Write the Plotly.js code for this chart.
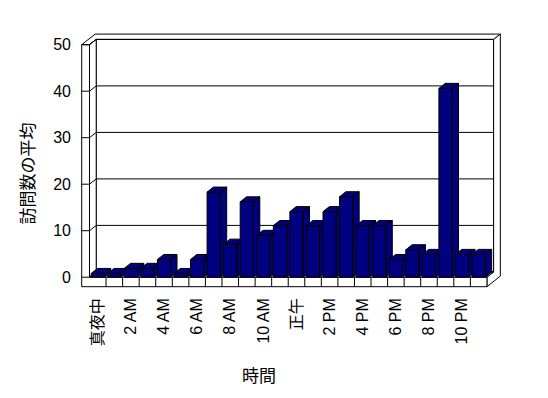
<!DOCTYPE html>
<html>
<head>
<meta charset="utf-8">
<script src="https://cdn.plot.ly/plotly-3.0.1.min.js"></script>
<style>
  html, body { margin: 0; padding: 0; background: #ffffff; }
  #chart { width: 548px; height: 398px; }
</style>
</head>
<body>
<div id="chart"></div>
<script>
// ---- data ----
const hours = ['真夜中','1 AM','2 AM','3 AM','4 AM','5 AM','6 AM','7 AM','8 AM','9 AM','10 AM','11 AM',
               '正午','1 PM','2 PM','3 PM','4 PM','5 PM','6 PM','7 PM','8 PM','9 PM','10 PM','11 PM'];
const avgVisits = [0.8, 0.8, 1.9, 1.9, 3.8, 0.8, 3.8, 18.3, 7.1, 16.2, 9.0, 11.1,
                   14.1, 11.1, 14.1, 17.3, 11.1, 11.1, 3.8, 5.9, 4.9, 40.6, 4.9, 4.9];
const xTickIdx = [0, 2, 4, 6, 8, 10, 12, 14, 16, 18, 20, 22];
const xTickLabels = ['真夜中','2 AM','4 AM','6 AM','8 AM','10 AM','正午','2 PM','4 PM','6 PM','8 PM','10 PM'];
const yTicks = [0, 10, 20, 30, 40, 50];
const xTitle = '時間';
const yTitle = '訪問数の平均';

// ---- geometry (pixel scale of front plane) ----
const PX_CAT = 16.56, PX_UNIT = 4.65;
const DX = 6.7 / PX_CAT, DY = 5.3 / PX_UNIT;   // one depth step
const WALL = 7.8 / PX_CAT;                       // left wall thickness
const FLOOR = 9.5 / PX_UNIT;                     // floor thickness
const N = hours.length;
const X0 = -0.5, X1 = N - 0.5, XL = X0 - WALL;
const YMAX = 50;
const HW = 0.4, BAR_DEPTH = 0.95;

const plotL = 78, plotR = 504, plotT = 30, plotB = 292;
const xr = [(plotL - 89.5) / PX_CAT - 0.5, (plotR - 89.5) / PX_CAT - 0.5];
const yr = [(277.2 - plotB) / PX_UNIT, (277.2 - plotT) / PX_UNIT];

function P(x, y, d) { return [x + d * DX, y + d * DY]; }
function pathOf(pts) {
  return 'M' + pts.map(p => p[0] + ',' + p[1]).join('L') + 'Z';
}
const wallStyle = { type: 'path', xref: 'x', yref: 'y', layer: 'below',
                    fillcolor: '#ffffff', line: { color: '#000000', width: 1 } };
const shapes = [];
function poly(pts) { shapes.push(Object.assign({}, wallStyle, { path: pathOf(pts) })); }
function seg(a, b) {
  shapes.push({ type: 'line', xref: 'x', yref: 'y', layer: 'below',
                x0: a[0], y0: a[1], x1: b[0], y1: b[1], line: { color: '#000000', width: 1 } });
}

// back wall inner face
poly([P(X0, 0, 1), P(X1, 0, 1), P(X1, YMAX, 1), P(X0, YMAX, 1)]);
// top faces of left + back wall
poly([P(XL, YMAX, 0), P(X0, YMAX, 0), P(X0, YMAX, 1), P(X1, YMAX, 1), P(X1, YMAX, 2), P(XL, YMAX, 2)]);
// right faces of back wall + floor
poly([P(X1, YMAX, 1), P(X1, YMAX, 2), P(X1, -FLOOR, 2), P(X1, -FLOOR, 0), P(X1, 0, 0), P(X1, 0, 1)]);
// left wall inner face
poly([P(X0, 0, 0), P(X0, 0, 1), P(X0, YMAX, 1), P(X0, YMAX, 0)]);
// floor top face
poly([P(X0, 0, 0), P(X1, 0, 0), P(X1, 0, 1), P(X0, 0, 1)]);
// left wall front face + floor front face
poly([P(XL, YMAX, 0), P(X0, YMAX, 0), P(X0, 0, 0), P(X1, 0, 0), P(X1, -FLOOR, 0), P(XL, -FLOOR, 0)]);
// gridlines on back wall + tick marks on left wall
yTicks.forEach(v => {
  seg(P(X0, v, 1), P(X1, v, 1));
  seg(P(XL, v, 0), P(X0, v, 0));
  seg(P(X0, v, 0), P(X0, v, 1));
});
// category ticks on floor front face
for (let k = 1; k < N; k++) seg(P(X0 + k, 0, 0), P(X0 + k, -FLOOR, 0));

// ---- bars (front, top, side faces), one trace per bar, left to right ----
const traces = avgVisits.map((v, i) => {
  const a = i - HW, b = i + HW, d = BAR_DEPTH;
  const faces = [
    [P(a, 0, 0), P(b, 0, 0), P(b, v, 0), P(a, v, 0)],
    [P(a, v, 0), P(b, v, 0), P(b, v, d), P(a, v, d)],
    [P(b, 0, 0), P(b, 0, d), P(b, v, d), P(b, v, 0)]
  ];
  const xs = [], ys = [];
  faces.forEach((f, k) => {
    if (k) { xs.push(null); ys.push(null); }
    f.concat([f[0]]).forEach(p => { xs.push(p[0]); ys.push(p[1]); });
  });
  return { type: 'scatter', mode: 'lines', x: xs, y: ys, fill: 'toself',
           fillcolor: '#000080', line: { color: '#000000', width: 1 },
           hoverinfo: 'skip', showlegend: false, name: hours[i] };
});

const FONT = 'Arial, "Liberation Sans", "Noto Sans CJK JP", sans-serif';
const layout = {
  width: 548, height: 398,
  margin: { l: plotL, r: 548 - plotR, t: plotT, b: 398 - plotB, pad: 0 },
  paper_bgcolor: '#ffffff', plot_bgcolor: 'rgba(0,0,0,0)',
  showlegend: false,
  font: { family: FONT, color: '#000000', size: 16 },
  xaxis: {
    range: xr, showgrid: false, zeroline: false, showline: false, ticks: '',
    tickmode: 'array', tickvals: xTickIdx, ticktext: xTickLabels, tickangle: -90,
    tickfont: { family: FONT, size: 16, color: '#000000' }, ticklabelstandoff: 2,
    fixedrange: true
  },
  yaxis: {
    range: yr, showgrid: false, zeroline: false, showline: false, ticks: '',
    tickmode: 'array', tickvals: yTicks, ticktext: yTicks.map(String),
    tickfont: { family: FONT, size: 16, color: '#000000' }, ticklabelstandoff: 6,
    fixedrange: true
  },
  shapes: shapes,
  annotations: [
    { text: yTitle, xref: 'paper', yref: 'paper', x: (27.5 - plotL) / (plotR - plotL),
      y: (plotB - 174) / (plotB - plotT), xanchor: 'center', yanchor: 'middle',
      textangle: -90, showarrow: false, font: { family: FONT, size: 17, color: '#000000' } },
    { text: xTitle, xref: 'paper', yref: 'paper', x: (259 - plotL) / (plotR - plotL),
      y: (plotB - 376.7) / (plotB - plotT), xanchor: 'center', yanchor: 'middle',
      showarrow: false, font: { family: FONT, size: 17, color: '#000000' } }
  ]
};

Plotly.newPlot('chart', traces, layout, { displayModeBar: false, staticPlot: true });
</script>
</body>
</html>
